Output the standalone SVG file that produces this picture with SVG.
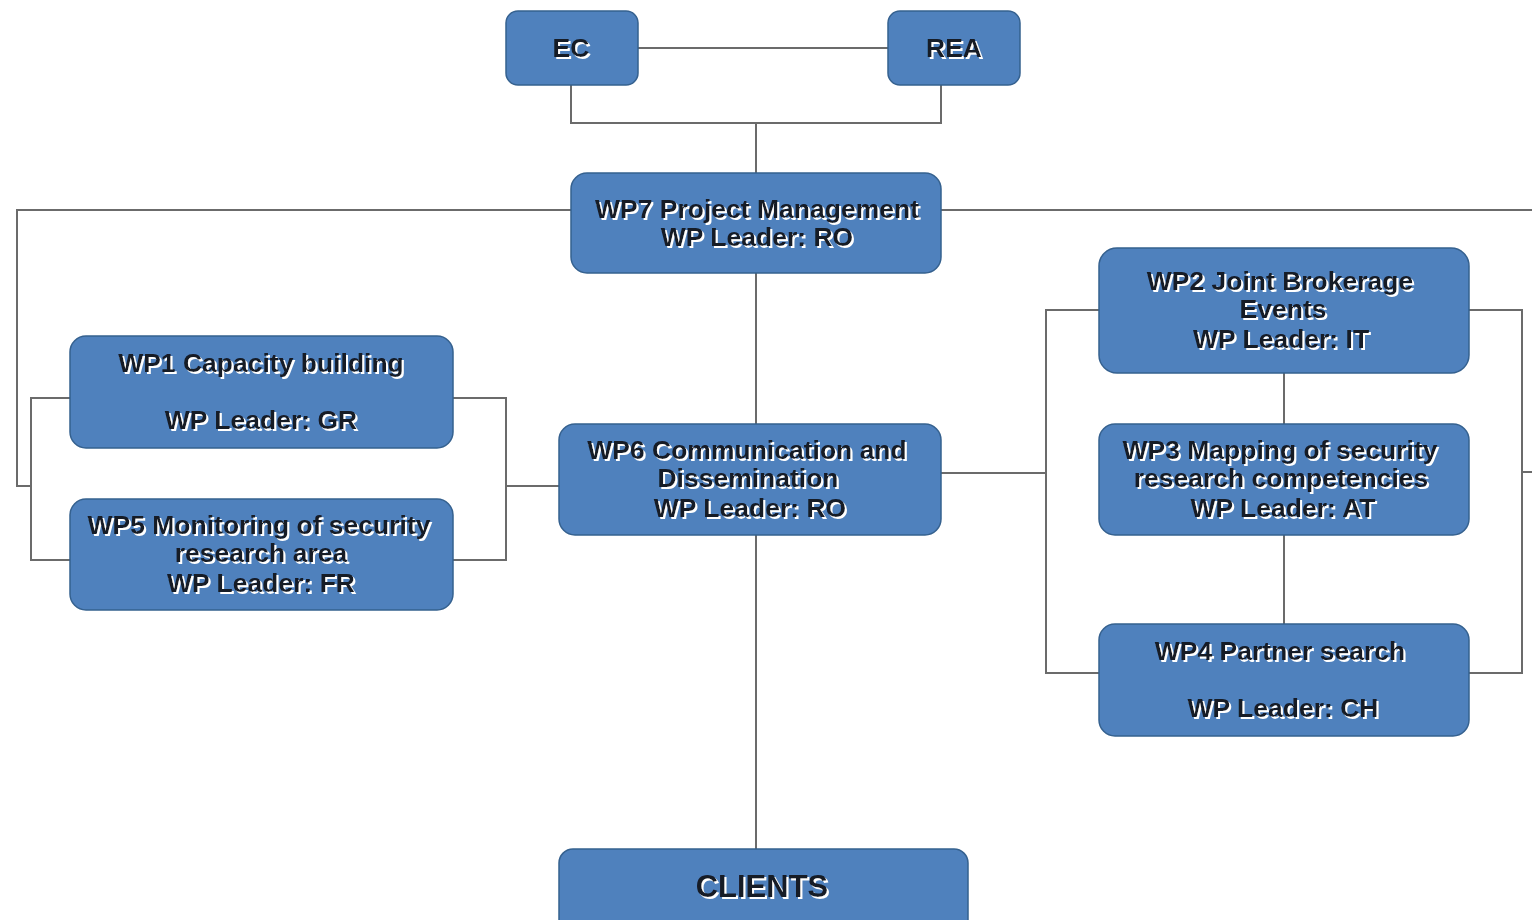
<svg xmlns="http://www.w3.org/2000/svg" width="1532" height="920" viewBox="0 0 1532 920">
<defs>
<filter id="sh" x="-10%" y="-30%" width="120%" height="160%">
<feFlood flood-color="#ffffff" result="w"/>
<feComposite in="w" in2="SourceAlpha" operator="in" result="wa"/>
<feOffset in="wa" dx="1.5" dy="1.5" result="off"/>
<feMerge><feMergeNode in="off"/><feMergeNode in="SourceGraphic"/></feMerge>
</filter>
</defs>
<style>
.box{fill:#4f81bd;stroke:#35618f;stroke-width:1.5}
.t{font-family:"Liberation Sans",Arial,sans-serif;font-weight:bold;font-size:26.5px;fill:#141a26;text-anchor:middle;dominant-baseline:central;filter:url(#sh)}
.big{font-size:31px}
.c{fill:none;stroke:#6b6b6b;stroke-width:2}
</style>
<rect width="1532" height="920" fill="#ffffff"/>
<g id="connectors" class="c">
<line x1="638" y1="48" x2="888" y2="48"/>
<polyline points="571,85 571,123 941,123 941,85"/>
<line x1="756" y1="123" x2="756" y2="173"/>
<polyline points="571,210 17,210 17,486 31,486"/>
<line x1="941" y1="210" x2="1532" y2="210"/>
<polyline points="70,398 31,398 31,560 70,560"/>
<polyline points="453,398 506,398 506,560 453,560"/>
<line x1="506" y1="486" x2="559" y2="486"/>
<line x1="756" y1="273" x2="756" y2="424"/>
<line x1="756" y1="535" x2="756" y2="849"/>
<line x1="941" y1="473" x2="1046" y2="473"/>
<polyline points="1099,310 1046,310 1046,673 1099,673"/>
<polyline points="1469,310 1522,310 1522,673 1469,673"/>
<line x1="1522" y1="472" x2="1532" y2="472"/>
<line x1="1284" y1="373" x2="1284" y2="424"/>
<line x1="1284" y1="535" x2="1284" y2="624"/>
</g>
<g id="ec"><rect class="box" x="506" y="11" width="132" height="74" rx="12"/><text class="t" x="571" y="48">EC</text></g>
<g id="rea"><rect class="box" x="888" y="11" width="132" height="74" rx="12"/><text class="t" x="954" y="48">REA</text></g>
<g id="wp7"><rect class="box" x="571" y="173" width="370" height="100" rx="16"/><text class="t" x="757" y="209">WP7 Project Management</text><text class="t" x="757" y="237">WP Leader: RO</text></g>
<g id="wp1"><rect class="box" x="70" y="336" width="383" height="112" rx="16"/><text class="t" x="261" y="363">WP1 Capacity building</text><text class="t" x="261" y="420">WP Leader: GR</text></g>
<g id="wp5"><rect class="box" x="70" y="499" width="383" height="111" rx="16"/><text class="t" x="259" y="525">WP5 Monitoring of security</text><text class="t" x="261" y="553">research area</text><text class="t" x="261" y="583">WP Leader: FR</text></g>
<g id="wp6"><rect class="box" x="559" y="424" width="382" height="111" rx="16"/><text class="t" x="747" y="450">WP6 Communication and</text><text class="t" x="748" y="478">Dissemination</text><text class="t" x="750" y="508">WP Leader: RO</text></g>
<g id="wp2"><rect class="box" x="1099" y="248" width="370" height="125" rx="18"/><text class="t" x="1280" y="281">WP2 Joint Brokerage</text><text class="t" x="1283" y="309">Events</text><text class="t" x="1281" y="339">WP Leader: IT</text></g>
<g id="wp3"><rect class="box" x="1099" y="424" width="370" height="111" rx="16"/><text class="t" x="1280" y="450">WP3 Mapping of security</text><text class="t" x="1281" y="478">research competencies</text><text class="t" x="1283" y="508">WP Leader: AT</text></g>
<g id="wp4"><rect class="box" x="1099" y="624" width="370" height="112" rx="16"/><text class="t" x="1280" y="651">WP4 Partner search</text><text class="t" x="1283" y="708">WP Leader: CH</text></g>
<g id="clients"><rect class="box" x="559" y="849" width="409" height="90" rx="14"/><text class="t big" x="762" y="886">CLIENTS</text></g>
</svg>
